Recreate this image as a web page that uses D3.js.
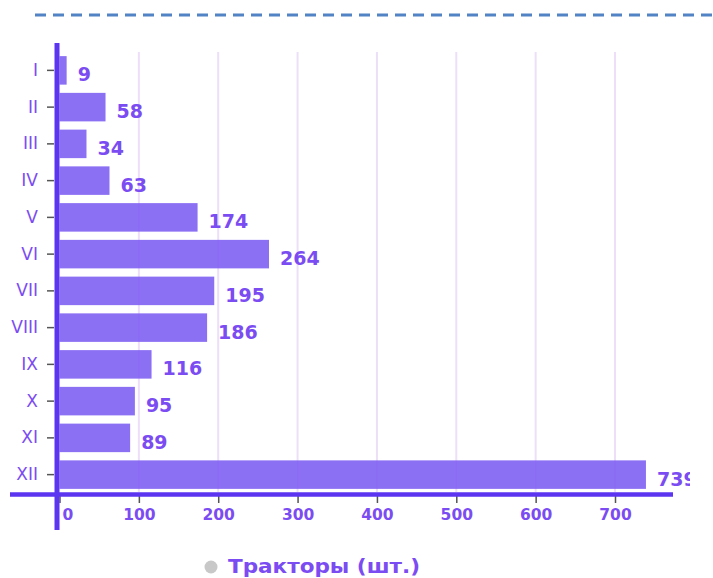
<!DOCTYPE html>
<html>
<head>
<meta charset="utf-8">
<script src="https://cdn.jsdelivr.net/npm/d3@7"></script>
<style>
  body { margin: 0; background: #fff; }
  svg { display: block; font-family: "DejaVu Sans", Verdana, sans-serif; }
</style>
</head>
<body>
<div id="chart"></div>
<script>
const months = ["I", "II", "III", "IV", "V", "VI", "VII", "VIII", "IX", "X", "XI", "XII"];
const tractors = [9, 58, 34, 63, 174, 264, 195, 186, 116, 95, 89, 739];
const xTicks = [0, 100, 200, 300, 400, 500, 600, 700];
const seriesName = "Тракторы (шт.)";

const width = 713, height = 578;
const textColor = "#7b4cf2";
const axisColor = "#5b35f0";

const svg = d3.select("#chart").append("svg")
  .attr("width", width)
  .attr("height", height);

svg.append("defs").append("clipPath").attr("id", "plot-clip")
  .append("rect").attr("x", 0).attr("y", 0).attr("width", 690).attr("height", height);

// dashed line on top
svg.append("line")
  .attr("x1", 35).attr("x2", width)
  .attr("y1", 15).attr("y2", 15)
  .attr("stroke", "#5283c4")
  .attr("stroke-width", 3)
  .attr("stroke-dasharray", "11,7");

const x = d3.scaleLinear()
  .domain([0, 700])
  .range([59.5, 615]);

const y = d3.scaleBand()
  .domain(months)
  .range([52, 493])
  .paddingInner(0.224)
  .paddingOuter(0.112);

// grid
svg.append("g")
  .selectAll("line")
  .data(xTicks.filter(d => d > 0))
  .join("line")
  .attr("x1", d => x(d)).attr("x2", d => x(d))
  .attr("y1", 52).attr("y2", 492)
  .attr("stroke", "#ecdff7")
  .attr("stroke-width", 2);

// bars
svg.append("g")
  .selectAll("rect")
  .data(tractors)
  .join("rect")
  .attr("x", x(0))
  .attr("y", (d, i) => y(months[i]))
  .attr("width", d => x(d) - x(0))
  .attr("height", y.bandwidth())
  .attr("fill", "#7c5cf2")
  .attr("fill-opacity", 0.88);

// value labels
svg.append("g")
  .attr("clip-path", "url(#plot-clip)")
  .selectAll("text")
  .data(tractors)
  .join("text")
  .attr("x", d => x(d) + 11)
  .attr("y", (d, i) => y(months[i]) + y.bandwidth() / 2 + 11)
  .attr("fill", textColor)
  .attr("font-size", 19)
  .attr("font-weight", "bold")
  .text(d => d);

// bottom axis
const xAxis = svg.append("g")
  .attr("transform", "translate(0,494)")
  .call(d3.axisBottom(x).tickValues(xTicks).tickSize(9).tickPadding(6));
xAxis.select(".domain").remove();
xAxis.selectAll(".tick line").attr("stroke", "#555").attr("stroke-width", 1.5);
xAxis.selectAll(".tick text")
  .attr("fill", textColor)
  .attr("font-size", 15.5)
  .attr("font-weight", "bold")
  .attr("font-family", "'DejaVu Sans', Verdana, sans-serif")
  .attr("dx", d => d === 0 ? 8 : 0);
svg.append("line")
  .attr("x1", 10).attr("x2", 673)
  .attr("y1", 494.5).attr("y2", 494.5)
  .attr("stroke", axisColor)
  .attr("stroke-width", 4.5);

// left axis
const yAxis = svg.append("g")
  .attr("transform", "translate(54,0)")
  .call(d3.axisLeft(y).tickSize(7).tickPadding(9));
yAxis.select(".domain").remove();
yAxis.selectAll(".tick line").attr("stroke", "#555").attr("stroke-width", 1.5);
yAxis.selectAll(".tick text")
  .attr("fill", textColor)
  .attr("font-size", 17)
  .attr("font-family", "'DejaVu Sans', Verdana, sans-serif");
svg.append("line")
  .attr("x1", 57).attr("x2", 57)
  .attr("y1", 43).attr("y2", 530)
  .attr("stroke", axisColor)
  .attr("stroke-width", 5);

// legend
svg.append("circle")
  .attr("cx", 211).attr("cy", 567)
  .attr("r", 6.5)
  .attr("fill", "#c8c8c8");
svg.append("text")
  .attr("x", 228).attr("y", 573)
  .attr("fill", textColor)
  .attr("font-size", 19)
  .attr("font-weight", "bold")
  .attr("font-family", "'DejaVu Sans', Verdana, sans-serif")
  .attr("textLength", 192)
  .attr("lengthAdjust", "spacingAndGlyphs")
  .text(seriesName);
</script>
</body>
</html>
